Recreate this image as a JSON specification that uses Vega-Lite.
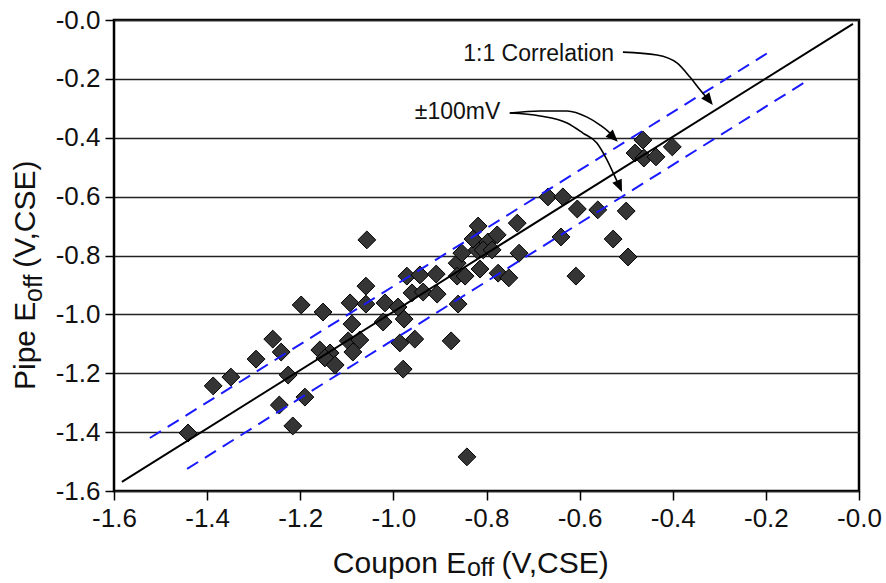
{
  "$schema": "https://vega.github.io/schema/vega-lite/v6.json",
  "width": 745,
  "height": 471,
  "autosize": {"type": "none"},
  "padding": {"left": 114, "top": 20, "right": 27, "bottom": 92},
  "background": "white",
  "config": {
    "font": "Liberation Sans",
    "view": {"stroke": "#000", "strokeWidth": 2.5},
    "axis": {
      "labelFont": "Liberation Sans",
      "labelFontSize": 26,
      "labelColor": "#111",
      "labelFlush": false,
      "labelOverlap": false,
      "domain": false,
      "ticks": true,
      "tickSize": 9,
      "tickColor": "#000",
      "tickWidth": 1.5,
      "title": null,
      "labelPadding": 5
    },
    "axisX": {"grid": false},
    "axisY": {"grid": true, "gridColor": "#222", "gridWidth": 1.3}
  },
  "datasets": {
    "points": [
      {"coupon": -1.441, "pipe": -1.403}, {"coupon": -1.387, "pipe": -1.243}, {"coupon": -1.349, "pipe": -1.213},
      {"coupon": -1.295, "pipe": -1.152}, {"coupon": -1.259, "pipe": -1.084}, {"coupon": -1.241, "pipe": -1.128},
      {"coupon": -1.226, "pipe": -1.206}, {"coupon": -1.245, "pipe": -1.308}, {"coupon": -1.216, "pipe": -1.379},
      {"coupon": -1.198, "pipe": -0.968}, {"coupon": -1.190, "pipe": -1.281}, {"coupon": -1.151, "pipe": -0.992},
      {"coupon": -1.093, "pipe": -0.961}, {"coupon": -1.059, "pipe": -0.904}, {"coupon": -1.059, "pipe": -0.965},
      {"coupon": -1.018, "pipe": -0.961}, {"coupon": -0.990, "pipe": -0.975}, {"coupon": -1.089, "pipe": -1.033},
      {"coupon": -1.022, "pipe": -1.026}, {"coupon": -0.977, "pipe": -1.016}, {"coupon": -1.097, "pipe": -1.090},
      {"coupon": -1.072, "pipe": -1.087}, {"coupon": -1.158, "pipe": -1.121}, {"coupon": -1.136, "pipe": -1.131},
      {"coupon": -1.147, "pipe": -1.148}, {"coupon": -1.087, "pipe": -1.128}, {"coupon": -1.125, "pipe": -1.172},
      {"coupon": -0.986, "pipe": -1.097}, {"coupon": -0.954, "pipe": -1.084}, {"coupon": -0.876, "pipe": -1.090},
      {"coupon": -0.979, "pipe": -1.186}, {"coupon": -0.842, "pipe": -1.484}, {"coupon": -0.861, "pipe": -0.965},
      {"coupon": -0.960, "pipe": -0.927}, {"coupon": -0.936, "pipe": -0.924}, {"coupon": -0.906, "pipe": -0.931},
      {"coupon": -1.057, "pipe": -0.747}, {"coupon": -0.971, "pipe": -0.870}, {"coupon": -0.943, "pipe": -0.866},
      {"coupon": -0.908, "pipe": -0.863}, {"coupon": -0.863, "pipe": -0.826}, {"coupon": -0.853, "pipe": -0.792},
      {"coupon": -0.863, "pipe": -0.870}, {"coupon": -0.846, "pipe": -0.870}, {"coupon": -0.814, "pipe": -0.846},
      {"coupon": -0.820, "pipe": -0.781}, {"coupon": -0.829, "pipe": -0.744}, {"coupon": -0.818, "pipe": -0.700},
      {"coupon": -0.797, "pipe": -0.754}, {"coupon": -0.777, "pipe": -0.730}, {"coupon": -0.807, "pipe": -0.781},
      {"coupon": -0.788, "pipe": -0.781}, {"coupon": -0.775, "pipe": -0.860}, {"coupon": -0.752, "pipe": -0.876},
      {"coupon": -0.734, "pipe": -0.690}, {"coupon": -0.730, "pipe": -0.792}, {"coupon": -0.668, "pipe": -0.601},
      {"coupon": -0.636, "pipe": -0.601}, {"coupon": -0.605, "pipe": -0.642}, {"coupon": -0.640, "pipe": -0.737},
      {"coupon": -0.608, "pipe": -0.870}, {"coupon": -0.561, "pipe": -0.645}, {"coupon": -0.500, "pipe": -0.649},
      {"coupon": -0.528, "pipe": -0.744}, {"coupon": -0.496, "pipe": -0.805}, {"coupon": -0.464, "pipe": -0.408},
      {"coupon": -0.481, "pipe": -0.452}, {"coupon": -0.462, "pipe": -0.469}, {"coupon": -0.436, "pipe": -0.465},
      {"coupon": -0.401, "pipe": -0.431}
    ],
    "oneToOne": [
      {"coupon": -1.583, "pipe": -1.569}, {"coupon": -0.013, "pipe": -0.013}
    ],
    "band": [
      {"side": "upper", "coupon": -1.523, "pipe": -1.420}, {"side": "upper", "coupon": -0.189, "pipe": -0.105},
      {"side": "lower", "coupon": -1.443, "pipe": -1.525}, {"side": "lower", "coupon": -0.112, "pipe": -0.207}
    ],
    "arrows": [
      {"arrow": "a1", "coupon": -0.507, "pipe": -0.109}, {"arrow": "a1", "coupon": -0.434, "pipe": -0.119},
      {"arrow": "a1", "coupon": -0.391, "pipe": -0.146}, {"arrow": "a1", "coupon": -0.363, "pipe": -0.194},
      {"arrow": "a1", "coupon": -0.341, "pipe": -0.238}, {"arrow": "a1", "coupon": -0.318, "pipe": -0.281},
      {"arrow": "a2", "coupon": -0.750, "pipe": -0.316}, {"arrow": "a2", "coupon": -0.685, "pipe": -0.309},
      {"arrow": "a2", "coupon": -0.627, "pipe": -0.309}, {"arrow": "a2", "coupon": -0.584, "pipe": -0.330},
      {"arrow": "a2", "coupon": -0.556, "pipe": -0.357}, {"arrow": "a2", "coupon": -0.535, "pipe": -0.384},
      {"arrow": "a2", "coupon": -0.522, "pipe": -0.407},
      {"arrow": "a3", "coupon": -0.750, "pipe": -0.316}, {"arrow": "a3", "coupon": -0.685, "pipe": -0.326},
      {"arrow": "a3", "coupon": -0.627, "pipe": -0.350}, {"arrow": "a3", "coupon": -0.593, "pipe": -0.384},
      {"arrow": "a3", "coupon": -0.563, "pipe": -0.418}, {"arrow": "a3", "coupon": -0.541, "pipe": -0.476},
      {"arrow": "a3", "coupon": -0.524, "pipe": -0.533}, {"arrow": "a3", "coupon": -0.512, "pipe": -0.574}
    ],
    "one": [{"k": 1}]
  },
  "layer": [
    {
      "data": {"name": "points"},
      "mark": {"type": "point", "shape": "diamond", "filled": true, "fill": "#353535", "stroke": "#000", "strokeWidth": 1, "size": 320, "opacity": 1},
      "encoding": {
        "x": {
          "field": "coupon", "type": "quantitative",
          "scale": {"domain": [-1.6, 0], "nice": false, "zero": false},
          "axis": {
            "values": [-1.6, -1.4, -1.2, -1.0, -0.8, -0.6, -0.4, -0.2, 0],
            "labelExpr": "'-' + format(abs(datum.value), '.1f')"
          }
        },
        "y": {
          "field": "pipe", "type": "quantitative",
          "scale": {"domain": [-1.6, 0], "nice": false, "zero": false},
          "axis": {
            "values": [-1.6, -1.4, -1.2, -1.0, -0.8, -0.6, -0.4, -0.2, 0],
            "labelExpr": "'-' + format(abs(datum.value), '.1f')"
          }
        }
      }
    },
    {
      "data": {"name": "oneToOne"},
      "mark": {"type": "line", "color": "#000", "strokeWidth": 2},
      "encoding": {
        "x": {"field": "coupon", "type": "quantitative"},
        "y": {"field": "pipe", "type": "quantitative"}
      }
    },
    {
      "data": {"name": "band"},
      "mark": {"type": "line", "color": "#1a1aff", "strokeWidth": 2, "strokeDash": [13, 8]},
      "encoding": {
        "x": {"field": "coupon", "type": "quantitative"},
        "y": {"field": "pipe", "type": "quantitative"},
        "detail": {"field": "side"}
      }
    },
    {
      "data": {"name": "arrows"},
      "mark": {"type": "line", "color": "#000", "strokeWidth": 1.6, "interpolate": "monotone"},
      "encoding": {
        "x": {"field": "coupon", "type": "quantitative"},
        "y": {"field": "pipe", "type": "quantitative"},
        "detail": {"field": "arrow"}
      }
    },
    {
      "data": {"values": [{"coupon": -0.314, "pipe": -0.289}]},
      "mark": {"type": "point", "shape": "M0,0L-1,-0.42L-1,0.42Z", "filled": true, "color": "#000", "opacity": 1, "size": 600, "angle": 52},
      "encoding": {"x": {"field": "coupon", "type": "quantitative"}, "y": {"field": "pipe", "type": "quantitative"}}
    },
    {
      "data": {"values": [{"coupon": -0.518, "pipe": -0.414}]},
      "mark": {"type": "point", "shape": "M0,0L-1,-0.42L-1,0.42Z", "filled": true, "color": "#000", "opacity": 1, "size": 600, "angle": 45},
      "encoding": {"x": {"field": "coupon", "type": "quantitative"}, "y": {"field": "pipe", "type": "quantitative"}}
    },
    {
      "data": {"values": [{"coupon": -0.509, "pipe": -0.584}]},
      "mark": {"type": "point", "shape": "M0,0L-1,-0.42L-1,0.42Z", "filled": true, "color": "#000", "opacity": 1, "size": 600, "angle": 66},
      "encoding": {"x": {"field": "coupon", "type": "quantitative"}, "y": {"field": "pipe", "type": "quantitative"}}
    },
    {
      "data": {"name": "one"},
      "mark": {"type": "text", "text": "1:1 Correlation", "fontSize": 23, "align": "left", "baseline": "alphabetic", "color": "#111"},
      "encoding": {"x": {"datum": -0.850}, "y": {"datum": -0.138}}
    },
    {
      "data": {"name": "one"},
      "mark": {"type": "text", "text": "±100mV", "fontSize": 23, "align": "left", "baseline": "alphabetic", "color": "#111"},
      "encoding": {"x": {"datum": -0.954}, "y": {"datum": -0.336}}
    },
    {
      "data": {"name": "one"},
      "mark": {"type": "text", "text": "Coupon E", "fontSize": 30, "align": "left", "baseline": "alphabetic", "color": "#111"},
      "encoding": {"x": {"datum": -1.130}, "y": {"datum": -1.880}}
    },
    {
      "data": {"name": "one"},
      "mark": {"type": "text", "text": "off", "fontSize": 25, "align": "left", "baseline": "alphabetic", "color": "#111"},
      "encoding": {"x": {"datum": -0.842}, "y": {"datum": -1.890}}
    },
    {
      "data": {"name": "one"},
      "mark": {"type": "text", "text": "(V,CSE)", "fontSize": 30, "align": "left", "baseline": "alphabetic", "color": "#111"},
      "encoding": {"x": {"datum": -0.768}, "y": {"datum": -1.880}}
    },
    {
      "data": {"name": "one"},
      "mark": {"type": "text", "text": "Pipe E", "fontSize": 30, "align": "left", "baseline": "alphabetic", "angle": 270, "color": "#111"},
      "encoding": {"x": {"datum": -1.770}, "y": {"datum": -1.257}}
    },
    {
      "data": {"name": "one"},
      "mark": {"type": "text", "text": "off", "fontSize": 25, "align": "left", "baseline": "alphabetic", "angle": 270, "color": "#111"},
      "encoding": {"x": {"datum": -1.755}, "y": {"datum": -0.958}}
    },
    {
      "data": {"name": "one"},
      "mark": {"type": "text", "text": "(V,CSE)", "fontSize": 30, "align": "left", "baseline": "alphabetic", "angle": 270, "color": "#111"},
      "encoding": {"x": {"datum": -1.770}, "y": {"datum": -0.842}}
    }
  ]
}
